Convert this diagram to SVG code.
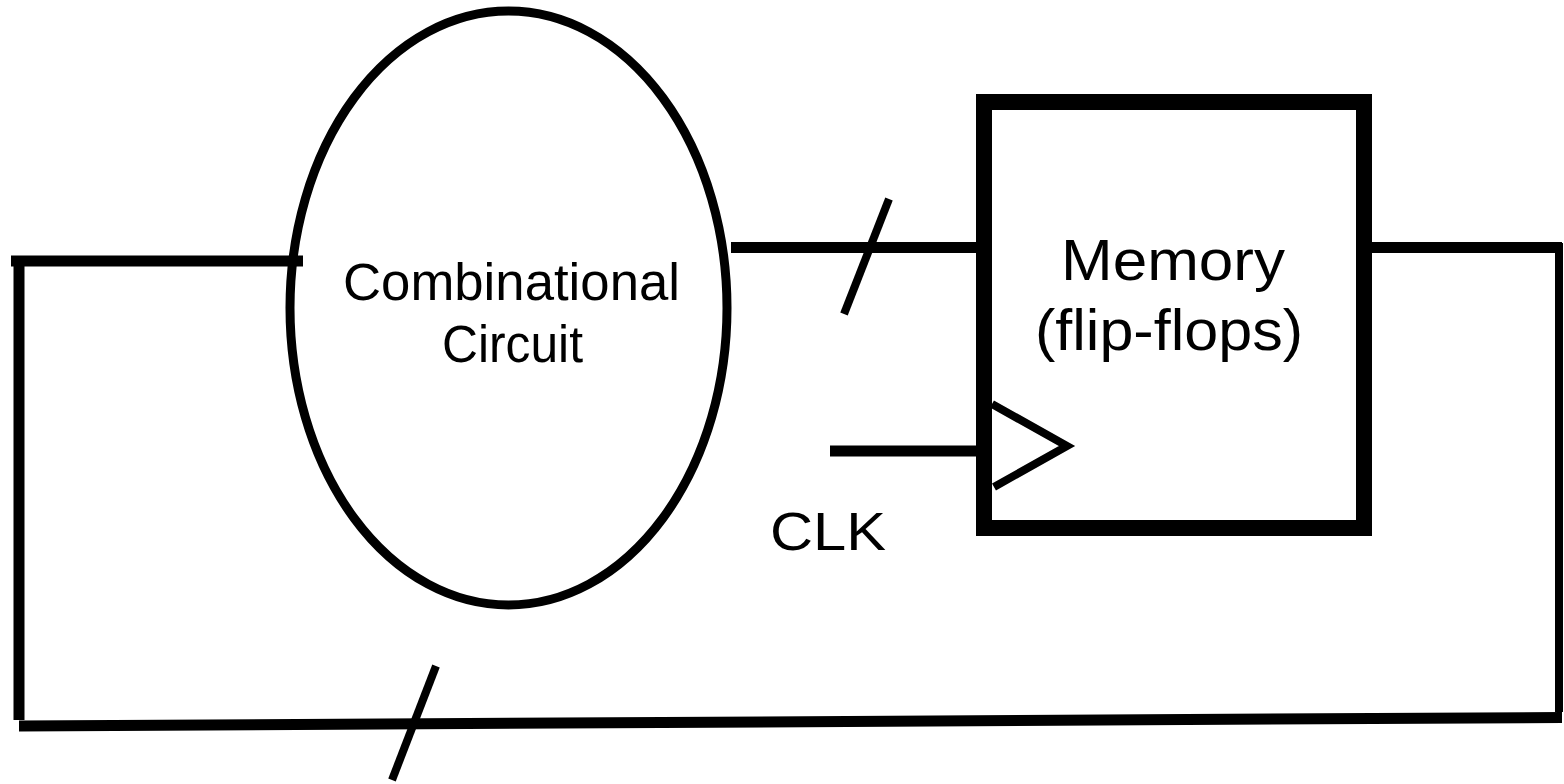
<svg xmlns="http://www.w3.org/2000/svg" width="1564" height="784" viewBox="0 0 1564 784">
<style>
.w{fill:none;stroke:#000;stroke-linecap:butt}
.t{font-family:"Liberation Sans",Arial,sans-serif;fill:#000}
</style>
<rect width="1564" height="784" fill="#fff"/>
<g id="connectors">
<line class="w" x1="11" y1="261" x2="303" y2="261" stroke-width="11"/>
<line class="w" x1="19" y1="256" x2="19" y2="720" stroke-width="11"/>
<line class="w" x1="19" y1="726" x2="1562" y2="717.5" stroke-width="11"/>
<line class="w" x1="1559" y1="243" x2="1559" y2="712" stroke-width="8"/>
<line class="w" x1="1372" y1="247.5" x2="1562" y2="247.5" stroke-width="11"/>
<line class="w" x1="731" y1="247.5" x2="977" y2="247.5" stroke-width="11"/>
<line class="w" x1="830" y1="451" x2="977" y2="451" stroke-width="11"/>
<line class="w" x1="889" y1="199" x2="844" y2="314" stroke-width="8"/>
<line class="w" x1="436" y1="666" x2="392" y2="780" stroke-width="8"/>
</g>
<g id="combinational">
<ellipse class="w" cx="508.5" cy="308" rx="218.5" ry="297" stroke-width="9"/>
<text class="t" x="343" y="300" font-size="51" textLength="337" lengthAdjust="spacingAndGlyphs">Combinational</text>
<text class="t" x="442" y="362" font-size="51" textLength="141" lengthAdjust="spacingAndGlyphs">Circuit</text>
</g>
<g id="memory">
<rect class="w" x="984" y="102" width="380" height="426" stroke-width="16"/>
<polyline class="w" points="992,404 1067,446 994,487" stroke-width="8"/>
<text class="t" x="1061" y="280" font-size="57" textLength="224" lengthAdjust="spacingAndGlyphs">Memory</text>
<text class="t" x="1035" y="350" font-size="57" textLength="268" lengthAdjust="spacingAndGlyphs">(flip-flops)</text>
</g>
<g id="clk">
<text class="t" x="770" y="550" font-size="54" textLength="116" lengthAdjust="spacingAndGlyphs">CLK</text>
</g>
</svg>
